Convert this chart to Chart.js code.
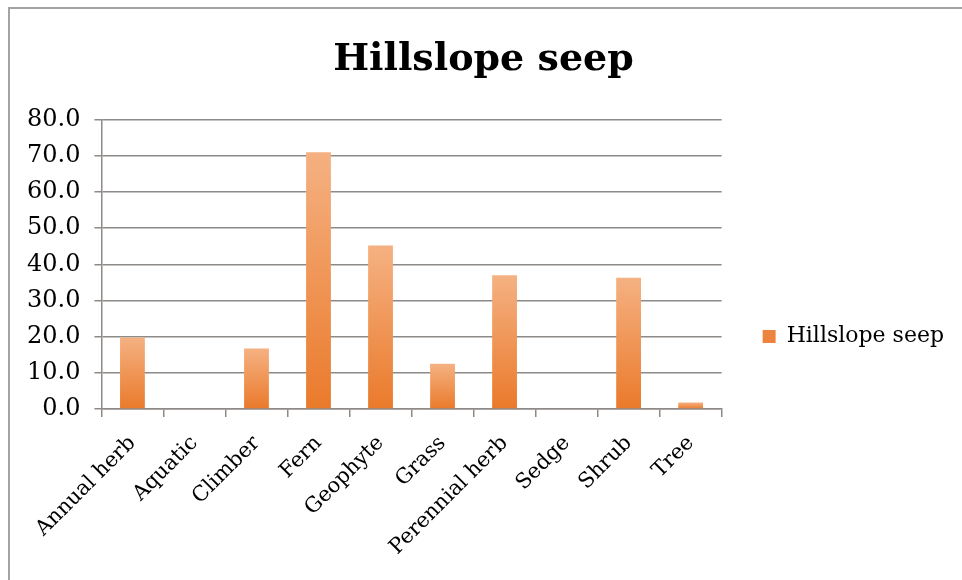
<!DOCTYPE html>
<html>
<head>
<meta charset="utf-8">
<title>Hillslope seep</title>
<script src="https://cdn.jsdelivr.net/npm/chart.js@4/dist/chart.umd.min.js"></script>
<style>
  html, body {
    margin: 0;
    padding: 0;
    background: #ffffff;
  }
  .frame {
    position: absolute;
    left: 8px;
    top: 7px;
    width: 954px;
    height: 573px;
    border-left: 2px solid #a3a3a3;
    border-top: 2px solid #a3a3a3;
  }
  #seepChart {
    position: absolute;
    left: 0;
    top: 0;
  }
</style>
</head>
<body>
<div class="frame">
  <canvas id="seepChart" width="952" height="571"></canvas>
</div>
<script>
const categories = [
  "Annual herb",
  "Aquatic",
  "Climber",
  "Fern",
  "Geophyte",
  "Grass",
  "Perennial herb",
  "Sedge",
  "Shrub",
  "Tree"
];
const seepValues = [19.8, 0, 16.7, 71.0, 45.2, 12.5, 37.0, 0, 36.3, 1.8];
const yTicks = [0, 10, 20, 30, 40, 50, 60, 70, 80];

const serif = "'DejaVu Serif', 'Liberation Serif', serif";
const gridColor = "#8e8a88";
const legendColor = "#ec8440";

// lighter at the top, darker orange at the base, like the original bars
function barGradient(context) {
  const chart = context.chart;
  const { ctx, chartArea, scales } = chart;
  const value = context.raw || 0;
  if (!chartArea || !value) return legendColor;
  const top = scales.y.getPixelForValue(value);
  const bottom = scales.y.getPixelForValue(0);
  const g = ctx.createLinearGradient(0, top, 0, bottom);
  g.addColorStop(0, "#f5b182");
  g.addColorStop(1, "#ea7a2b");
  return g;
}

new Chart(document.getElementById("seepChart"), {
  type: "bar",
  data: {
    labels: categories,
    datasets: [
      {
        label: "Hillslope seep",
        data: seepValues,
        backgroundColor: barGradient,
        borderWidth: 0,
        categoryPercentage: 1,
        barPercentage: 0.4
      }
    ]
  },
  options: {
    responsive: false,
    devicePixelRatio: 1,
    animation: false,
    layout: {
      padding: { left: 3, right: 8, top: 0, bottom: 6 }
    },
    plugins: {
      title: {
        display: true,
        text: "Hillslope seep",
        color: "#000000",
        font: { family: serif, size: 38, weight: "bold" },
        padding: { top: 28, bottom: 37 }
      },
      legend: {
        position: "right",
        // empty legend title only pushes the item down to where the original has it
        title: {
          display: true,
          text: "",
          font: { size: 10 },
          padding: { top: 0, bottom: 78 }
        },
        labels: {
          color: "#000000",
          font: { family: serif, size: 22 },
          boxWidth: 13,
          boxHeight: 13,
          padding: 41,
          generateLabels: function (chart) {
            const items = Chart.defaults.plugins.legend.labels.generateLabels(chart);
            items.forEach((item) => {
              item.fillStyle = legendColor;
              item.lineWidth = 0;
            });
            return items;
          }
        }
      },
      tooltip: { enabled: false }
    },
    scales: {
      x: {
        afterFit: function (scale) {
          scale.paddingLeft = 0;
          scale.paddingRight = 0;
        },
        grid: {
          display: true,
          drawOnChartArea: false,
          drawTicks: true,
          tickLength: 8,
          color: gridColor,
          lineWidth: 1.5
        },
        border: { color: gridColor, width: 1.5 },
        ticks: {
          color: "#000000",
          font: { family: serif, size: 21 },
          minRotation: 45,
          maxRotation: 45,
          autoSkip: false,
          padding: 14
        }
      },
      y: {
        min: 0,
        max: 80,
        afterBuildTicks: function (scale) {
          scale.ticks = yTicks.map((v) => ({ value: v }));
        },
        grid: {
          color: gridColor,
          lineWidth: 1.5,
          tickLength: 7
        },
        border: { color: gridColor, width: 1.5 },
        ticks: {
          color: "#000000",
          font: { family: serif, size: 24 },
          padding: 14,
          callback: function (value) {
            return Number(value).toFixed(1);
          }
        }
      }
    }
  }
});
</script>
</body>
</html>
